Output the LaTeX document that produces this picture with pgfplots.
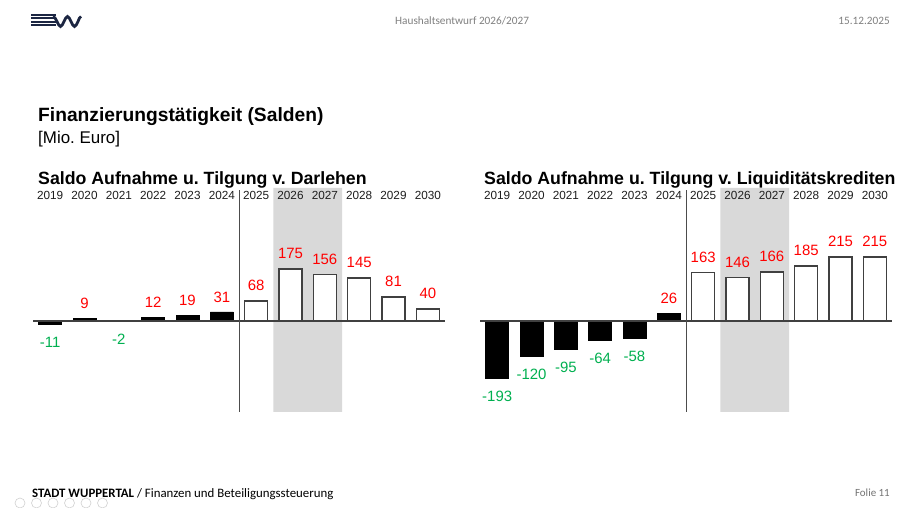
\documentclass[border=0pt]{standalone}
\usepackage{fontspec}
\setmainfont{Liberation Sans}
\newfontfamily\carlito{Carlito}
\usepackage{pgfplots}
\pgfplotsset{compat=1.18}
\frenchspacing
\definecolor{navy}{RGB}{28,38,66}
\definecolor{band}{RGB}{217,217,217}
\definecolor{pos}{RGB}{255,0,0}
\definecolor{neg}{RGB}{0,176,80}
\definecolor{outl}{RGB}{64,64,64}
\pgfplotsset{
  saldo/.style={
    scale only axis, width=412bp, height=224bp,
    anchor=south west,
    xmin=-0.5, xmax=11.5, ymin=-306, ymax=448,
    enlargelimits=false, clip=false,
    axis on top,
    axis line style={draw=none},
    major tick length=0pt,
    ytick=\empty,
    xtick={0,...,11},
    xticklabels={2019,2020,2021,2022,2023,2024,2025,2026,2027,2028,2029,2030},
    xticklabel pos=upper,
    xticklabel style={anchor=center, yshift=-7bp, font=\fontsize{11.8}{13}\selectfont, text=black!88},
    /pgf/number format/assume math mode=true,
    ybar, bar width=23bp,
  },
  blk/.style={ybar, bar shift=0pt, fill=black, draw=black, line width=0.6bp},
  wht/.style={ybar, bar shift=0pt, fill=white, draw=outl, line width=1.5bp},
  lpos/.style={nodes near coords, every node near coord/.append style={text=pos, yshift=6bp, font=\fontsize{15}{17}\selectfont}},
  lneg/.style={nodes near coords, every node near coord/.append style={text=neg, yshift=-9bp, font=\fontsize{15}{17}\selectfont}},
}
\begin{document}
\begin{tikzpicture}
\path[fill=white, use as bounding box] (0,0) rectangle (901bp,508bp);
% logo
\begin{scope}[navy]
\fill (31bp,492.2bp) rectangle (56bp,494.2bp);
\fill (31bp,488.7bp) rectangle (56bp,490.7bp);
\fill (31bp,485.2bp) rectangle (56bp,487.2bp);
\fill (31bp,481.7bp) rectangle (56bp,483.7bp);
\draw[line width=2.8bp] (53bp,491.5bp) cos (57bp,486.5bp) sin (60.5bp,481.5bp) cos (64bp,486.5bp) sin (67.5bp,491.5bp) cos (71bp,486.5bp) sin (74.5bp,481.5bp) cos (78bp,486.5bp) sin (81bp,491.5bp);
\end{scope}
% header
\node[anchor=base west, inner sep=0, text=black!50, font=\carlito\fontsize{11.3}{13}\selectfont] at (395bp,483.5bp) {Haushaltsentwurf 2026/2027};
\node[anchor=base east, inner sep=0, text=black!50, font=\carlito\fontsize{11.3}{13}\selectfont] at (890bp,483.5bp) {15.12.2025};
% titles
\node[anchor=base west, inner sep=0, font=\fontsize{19.3}{22}\selectfont\bfseries] at (38bp,386bp) {Finanzierungstätigkeit (Salden)};
\node[anchor=base west, inner sep=0, font=\fontsize{17}{20}\selectfont] at (38bp,364bp) {[Mio. Euro]};
\node[anchor=base west, inner sep=0, font=\fontsize{17.8}{20}\selectfont\bfseries] at (38bp,323bp) {Saldo Aufnahme u. Tilgung v. Darlehen};
\node[anchor=base west, inner sep=0, font=\fontsize{17.8}{20}\selectfont\bfseries] at (484bp,323bp) {Saldo Aufnahme u. Tilgung v. Liquiditätskrediten};
% left chart
\begin{axis}[saldo, at={(33bp,96bp)}]
\addplot[fill=band, draw=none, sharp plot] coordinates {(6.5,-306) (8.5,-306) (8.5,448) (6.5,448) (6.5,-306)};
\addplot[blk, lneg] coordinates {(0,-11) (2,-2)};
\addplot[blk, lpos] coordinates {(1,9) (3,12) (4,19) (5,31)};
\addplot[wht, lpos] coordinates {(6,68) (7,175) (8,156) (9,145) (10,81) (11,40)};
\addplot[outl, line width=1.3bp, sharp plot] coordinates {(-0.5,0) (11.5,0)};
\addplot[black!70, line width=1bp, sharp plot] coordinates {(5.5,-306) (5.5,441)};
\end{axis}
% right chart
\begin{axis}[saldo, at={(480bp,96bp)}]
\addplot[fill=band, draw=none, sharp plot] coordinates {(6.5,-306) (8.5,-306) (8.5,448) (6.5,448) (6.5,-306)};
\addplot[blk, lneg] coordinates {(0,-193) (1,-120) (2,-95) (3,-64) (4,-58)};
\addplot[blk, lpos] coordinates {(5,26)};
\addplot[wht, lpos] coordinates {(6,163) (7,146) (8,166) (9,185) (10,215) (11,215)};
\addplot[outl, line width=1.3bp, sharp plot] coordinates {(-0.5,0) (11.5,0)};
\addplot[black!70, line width=1bp, sharp plot] coordinates {(5.5,-306) (5.5,441)};
\end{axis}
% footer
\node[anchor=base west, inner sep=0, font=\carlito\fontsize{12.9}{15}\selectfont] at (32bp,11bp) {\textbf{STADT WUPPERTAL} / Finanzen und Beteiligungssteuerung};
\node[anchor=base east, inner sep=0, text=black!55, font=\carlito\fontsize{11}{13}\selectfont] at (890bp,12bp) {Folie 11};
\foreach \k in {0,...,5} {
  \draw[black!18, line width=0.6bp] ({20bp+16.5bp*\k},5bp) circle (5bp);
}
\end{tikzpicture}
\end{document}
